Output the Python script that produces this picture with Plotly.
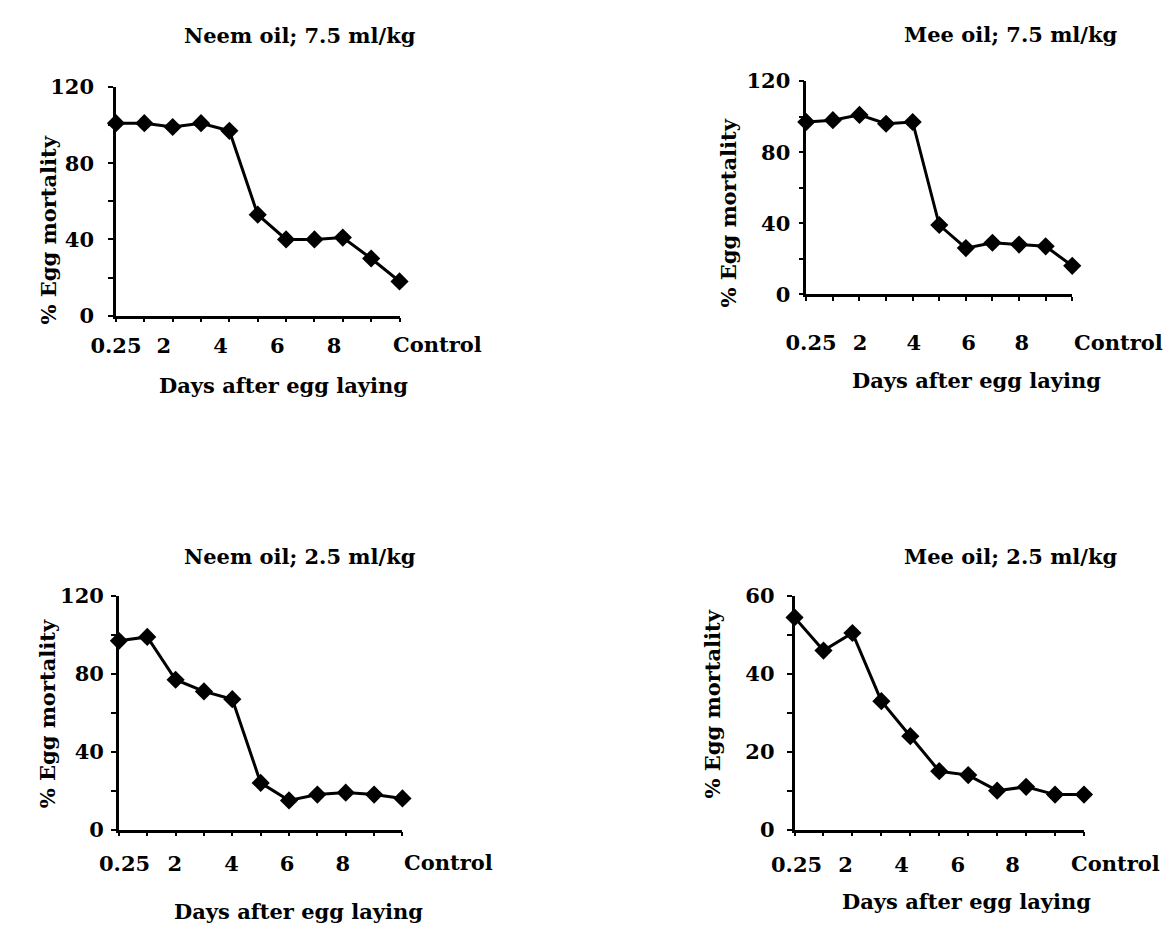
import plotly.graph_objects as go

# ---- data ----
days = ["0.25", "1", "2", "3", "4", "5", "6", "7", "8", "9", "Control"]
neem_75 = [101, 101, 99, 101, 97, 53, 40, 40, 41, 30, 18]
mee_75 = [97, 98, 101, 96, 97, 39, 26, 29, 28, 27, 16]
neem_25 = [97, 99, 77, 71, 67, 24, 15, 18, 19, 18, 16]
mee_25 = [54.5, 46, 50.5, 33, 24, 15, 14, 10, 11, 9, 9]

titles = ["Neem oil; 7.5 ml/kg", "Mee oil; 7.5 ml/kg",
          "Neem oil; 2.5 ml/kg", "Mee oil; 2.5 ml/kg"]
xtick_text = ["0.25", "2", "4", "6", "8"]
xlab = "Days after egg laying"
ylab = "% Egg mortality"

W, H = 1171, 937
FONT = "DejaVu Serif"
FS = 21

# panel geometry in pixels
panels = [
    dict(y=neem_75, x0=92, x1=382, yt=76, yb=311, ymax=120, ystep=20, ylab_step=40,
         tickpos=[0, 1.69, 3.69, 5.69, 7.69], ctrl_shift=-9, lab_off=29, ystand=10,
         title=(280, 23), days=(263, 383), ytitle=(23, 223)),
    dict(y=mee_75, x0=798, x1=1070, yt=70, yb=289, ymax=120, ystep=20, ylab_step=40,
         tickpos=[0.18, 2.02, 4.04, 6.1, 8.1], ctrl_shift=0, lab_off=48, ystand=4,
         title=(1007, 22), days=(972, 378), ytitle=(718, 206)),
    dict(y=neem_25, x0=95, x1=385, yt=599, yb=839, ymax=120, ystep=20, ylab_step=40,
         tickpos=[0.2, 1.97, 3.97, 5.93, 7.9], ctrl_shift=0, lab_off=33, ystand=3,
         title=(280, 558), days=(279, 923), ytitle=(22, 720)),
    dict(y=mee_25, x0=786, x1=1082, yt=599, yb=839, ymax=60, ystep=10, ylab_step=20,
         tickpos=[0.07, 1.76, 3.7, 5.64, 7.53], ctrl_shift=-15, lab_off=34, ystand=8,
         title=(1007, 558), days=(962, 913), ytitle=(702, 710)),
]

fig = go.Figure()
layout = dict(width=W, height=H, margin=dict(l=0, r=0, t=0, b=0),
              paper_bgcolor="white", plot_bgcolor="white", showlegend=False,
              font=dict(family=FONT, size=FS, color="black"))
annotations = []
bold = dict(family=FONT, size=FS, color="black", weight="bold")

xpos = list(range(len(days)))
TL = 4

for i, p in enumerate(panels):
    n = "" if i == 0 else str(i + 1)
    on = str(i + 5)  # overlay axes for the inner half of the crossing ticks
    xa, ya = "xaxis" + n, "yaxis" + n
    fig.add_trace(go.Scatter(
        x=xpos, y=p["y"], xaxis="x" + n, yaxis="y" + n, mode="lines+markers",
        line=dict(color="black", width=3),
        marker=dict(symbol="diamond", size=14, color="black"),
        cliponaxis=False, text=days, hoverinfo="text+y"))
    yv = list(range(0, p["ymax"] + 1, p["ystep"]))
    yt = [str(v) if v % p["ylab_step"] == 0 else "" for v in yv]
    xdom = [p["x0"] / W, p["x1"] / W]
    ydom = [1 - p["yb"] / H, 1 - p["yt"] / H]
    layout[xa] = dict(
        domain=xdom, range=[0, 10], anchor="y" + n,
        showgrid=False, zeroline=False, showline=True, linecolor="black", linewidth=2.5,
        tickmode="array", tickvals=p["tickpos"], ticktext=xtick_text, ticks="",
        tickfont=bold, ticklabelstandoff=p["lab_off"] - 20,
        minor=dict(tickmode="array", tickvals=xpos, ticks="outside", ticklen=TL,
                   tickwidth=1.5, tickcolor="black", showgrid=False),
    )
    layout[ya] = dict(
        domain=ydom, range=[0, p["ymax"]], anchor="x" + n,
        showgrid=False, zeroline=False, showline=True, linecolor="black", linewidth=2.5,
        tickmode="array", tickvals=yv, ticktext=yt, ticks="outside", ticklen=TL + 1,
        tickwidth=1.5, tickcolor="black", tickfont=bold,
        ticklabelstandoff=p["ystand"],
    )
    # inner halves of the '+' style ticks
    layout["xaxis" + on] = dict(
        overlaying="x" + n, anchor="y" + n, domain=xdom, range=[0, 10], side="bottom",
        showgrid=False, zeroline=False, showline=False, showticklabels=False,
        tickmode="array", tickvals=xpos, ticks="inside", ticklen=TL,
        tickwidth=1.5, tickcolor="black")
    layout["yaxis" + on] = dict(
        overlaying="y" + n, anchor="x" + n, domain=ydom, range=[0, p["ymax"]], side="left",
        showgrid=False, zeroline=False, showline=False, showticklabels=False,
        tickmode="array", tickvals=yv[1:], ticks="inside", ticklen=TL,
        tickwidth=1.5, tickcolor="black")
    # "Control" category label (extends beyond the axis end)
    annotations.append(dict(
        xref="x" + n, yref="y" + n, x=10, y=0, text="Control", showarrow=False,
        xanchor="left", yanchor="middle", xshift=p["ctrl_shift"], yshift=-p["lab_off"],
        font=bold))
    # panel title
    annotations.append(dict(
        xref="paper", yref="paper", x=p["title"][0] / W, y=1 - p["title"][1] / H,
        text=titles[i], showarrow=False, xanchor="center", yanchor="middle", font=bold))
    # x axis title
    annotations.append(dict(
        xref="paper", yref="paper", x=p["days"][0] / W, y=1 - p["days"][1] / H,
        text=xlab, showarrow=False, xanchor="center", yanchor="middle", font=bold))
    # y axis title
    annotations.append(dict(
        xref="paper", yref="paper", x=p["ytitle"][0] / W, y=1 - p["ytitle"][1] / H,
        text=ylab, showarrow=False, xanchor="center", yanchor="middle", textangle=-90,
        font=bold))

layout["annotations"] = annotations
fig.update_layout(**layout)
fig.write_html("out.html",
               config={"displayModeBar": False},
               post_script="document.body.style.margin='0px';"
                           "document.body.style.overflow='hidden';")
